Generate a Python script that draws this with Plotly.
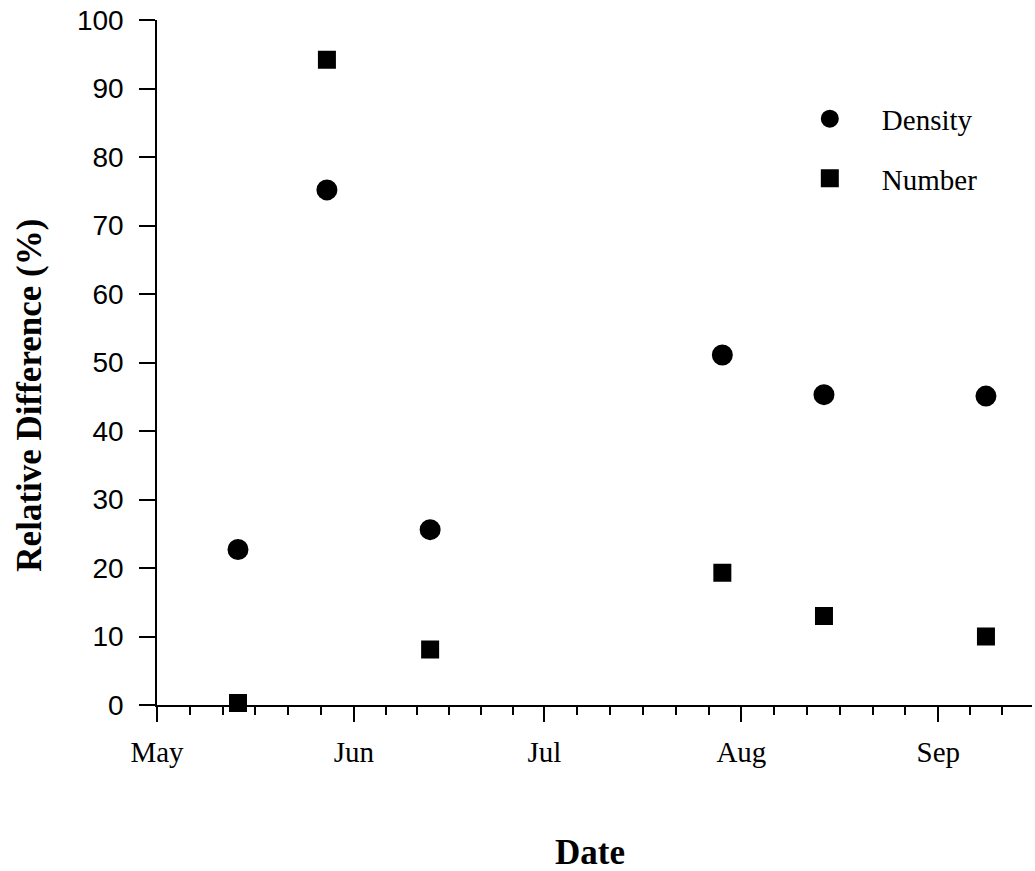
import pandas as pd
import plotly.graph_objects as go

# ---- data ----
dates = ["1999-05-13 18:00", "1999-05-27 18:00", "1999-06-13 00:00",
         "1999-07-29 00:00", "1999-08-14 00:00", "1999-09-08 12:00"]
density = [22.7, 75.2, 25.6, 51.1, 45.3, 45.1]
number = [0.3, 94.2, 8.1, 19.3, 13.0, 10.0]

month_ticks = ["1999-05-01", "1999-06-01", "1999-07-01", "1999-08-01", "1999-09-01"]
month_labels = ["May", "Jun", "Jul", "Aug", "Sep"]
y_ticks = [0, 10, 20, 30, 40, 50, 60, 70, 80, 90, 100]

x_start = "1999-05-01"
x_end = "1999-09-15 18:00"

# minor ticks: each month split into six parts
starts = pd.date_range("1999-05-01", "1999-10-01", freq="MS")
minor = []
for a, b in zip(starts[:-1], starts[1:]):
    step = (b - a) / 6
    for k in range(1, 6):
        minor.append(a + k * step)
minor = [m for m in minor if m <= pd.Timestamp(x_end)]

serif = "Liberation Serif, Times New Roman, serif"
sans = "Liberation Sans, Arial, sans-serif"

fig = go.Figure()
fig.add_trace(go.Scatter(
    x=pd.to_datetime(dates), y=density, mode="markers", name="Density",
    legendgroup="d",
    marker=dict(symbol="circle", size=19, color="black",
                line=dict(color="black", width=2)), cliponaxis=False))
fig.add_trace(go.Scatter(
    x=pd.to_datetime(dates), y=number, mode="markers", name="Number",
    legendgroup="n",
    marker=dict(symbol="square", size=16, color="black",
                line=dict(color="black", width=2)), cliponaxis=False))

fig.update_layout(
    width=1035, height=871,
    margin=dict(l=157, r=3, t=20, b=166),
    paper_bgcolor="white", plot_bgcolor="white",
    showlegend=True,
    legend=dict(x=0.7095, y=0.893, xanchor="left", yanchor="top",
                font=dict(family=serif, size=29, color="black"),
                bgcolor="rgba(0,0,0,0)", tracegroupgap=19, itemwidth=94,
                traceorder="grouped"),
    xaxis=dict(
        type="date", range=[x_start, x_end],
        tickmode="array", tickvals=month_ticks, ticktext=month_labels,
        ticks="outside", ticklen=15, tickwidth=1.5, tickcolor="black",
        showline=True, linecolor="black", linewidth=1.5,
        showgrid=False, zeroline=False,
        tickfont=dict(family=serif, size=29, color="black"),
        ticklabelstandoff=5,
        minor=dict(tickmode="array", tickvals=minor, ticks="outside",
                   ticklen=8, tickwidth=1.5, tickcolor="black", showgrid=False),
    ),
    yaxis=dict(
        range=[0, 100], tickmode="array", tickvals=y_ticks,
        ticks="outside", ticklen=16, tickwidth=1.5, tickcolor="black",
        showline=True, linecolor="black", linewidth=1.5,
        showgrid=False, zeroline=False,
        tickfont=dict(family=sans, size=28, color="black"),
        ticklabelstandoff=10,
    ),
    annotations=[
        dict(text="<b>Relative Difference (%)</b>", textangle=-90,
             xref="paper", yref="paper", x=-0.1455, y=0.4526,
             xanchor="center", yanchor="middle", showarrow=False,
             font=dict(family=serif, size=35, color="black")),
        dict(text="<b>Date</b>",
             xref="paper", yref="paper", x=0.4948, y=-0.216,
             xanchor="center", yanchor="middle", showarrow=False,
             font=dict(family=serif, size=35, color="black")),
    ],
)

fig.write_html("out.html", config={"displayModeBar": False},
               post_script="document.body.style.margin='0';")
